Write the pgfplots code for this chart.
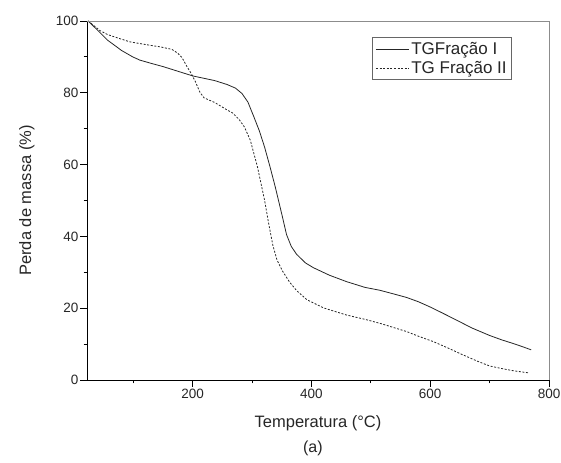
\documentclass[border=0pt]{standalone}
\usepackage{fontspec}
\setmainfont{Liberation Sans}
\usepackage{pgfplots}
\pgfplotsset{compat=1.18}

\begin{document}
\begin{tikzpicture}[x=1bp,y=1bp]
\useasboundingbox (0,0) rectangle (561,463);
\begin{axis}[
  at={(87bp,83bp)}, anchor=south west,
  scale only axis, width=462bp, height=359bp,
  xmin=22, xmax=800, ymin=0, ymax=100,
  axis x line*=bottom, axis y line*=left,
  axis line style={line width=0.9bp, -},
  xtick={200,400,600,800}, minor xtick={100,300,500,700},
  ytick={0,20,40,60,80,100}, minor ytick={10,30,50,70,90},
  tick align=outside, major tick length=7bp, minor tick length=3.5bp,
  every tick/.style={black, line width=0.9bp},
  /pgf/number format/assume math mode=true,
  tick label style={font=\fontsize{13.5bp}{16bp}\selectfont, text=black!85},
  xticklabel style={yshift=1bp},
  yticklabel style={xshift=2bp},
  xlabel={Temperatura (°C)},
  ylabel={Perda de massa (\%)},
  every axis x label/.style={at={(axis description cs:0.5,-0.120)}, anchor=center,
    font=\fontsize{16.5bp}{19bp}\selectfont, text=black!85},
  every axis y label/.style={at={(axis description cs:-0.130,0.5)}, anchor=center, rotate=90,
    font=\fontsize{16.5bp}{19bp}\selectfont, text=black!85},
  legend style={at={(axis description cs:0.92,0.955)}, anchor=north east,
    draw=black!60, line width=0.7bp, inner xsep=3bp, inner ysep=3bp,
    font=\fontsize{17bp}{20bp}\selectfont, text=black!85,
    row sep=1bp},
  legend cell align=left,
  legend image code/.code={\draw[#1] (0bp,0bp) -- (33bp,0bp);},
  clip=false,
]
\addplot[black!85, line width=0.8bp] coordinates {
  (24,100) (40,97.4) (57,94.6) (67,93.4) (80,91.8) (99,90.0) (111,89.1)
  (130,88.2) (150,87.3) (175,86.0) (200,84.7) (237,83.4) (258,82.3)
  (272,81.3) (283,79.8) (293,77.4) (303,73.3) (312,69.5) (321,64.9) (330,59.5)
  (339,53.8) (351,45.5) (358,40.5) (366,37.2) (375,35.0) (390,32.6)
  (403,31.3) (430,29.2) (459,27.4) (490,25.8) (515,25.0) (540,23.9)
  (560,23.0) (580,21.8) (599,20.4) (620,18.7) (644,16.7) (670,14.5)
  (700,12.4) (720,11.2) (739,10.2) (755,9.3) (770,8.4)};
\addlegendentry{TGFração I}
\addplot[black!85, line width=0.8bp, dash pattern=on 2bp off 1.6bp] coordinates {
  (24,100) (35,98.5) (44,97.3) (57,96.2) (75,95.2) (94,94.2) (122,93.4)
  (145,92.8) (165,92.1) (175,91.0) (182,89.8) (190,87.4) (197,85.5)
  (204,83.3) (212,80.2) (219,78.6) (237,77.3) (257,75.3) (267,74.4)
  (278,72.6) (287,70.5) (297,66.8) (309,59.4) (321,50.1) (328,43.5)
  (335,37.5) (342,33.4) (351,30.4) (363,27.3) (375,24.9) (392,22.4)
  (420,20.1) (459,18.1) (490,16.9) (515,15.8) (560,13.5) (580,12.2)
  (605,10.7) (630,8.9) (655,7.0) (680,5.2) (700,3.9) (720,3.2)
  (739,2.6) (765,2.0)};
\addlegendentry{TG Fração II}
\draw[black!45, line width=0.9bp] (rel axis cs:0,1) -- (rel axis cs:1,1) -- (rel axis cs:1,0);
\node[font=\fontsize{16bp}{19bp}\selectfont, text=black!85] at (axis description cs:0.489,-0.190) {(a)};
\end{axis}
\end{tikzpicture}
\end{document}
